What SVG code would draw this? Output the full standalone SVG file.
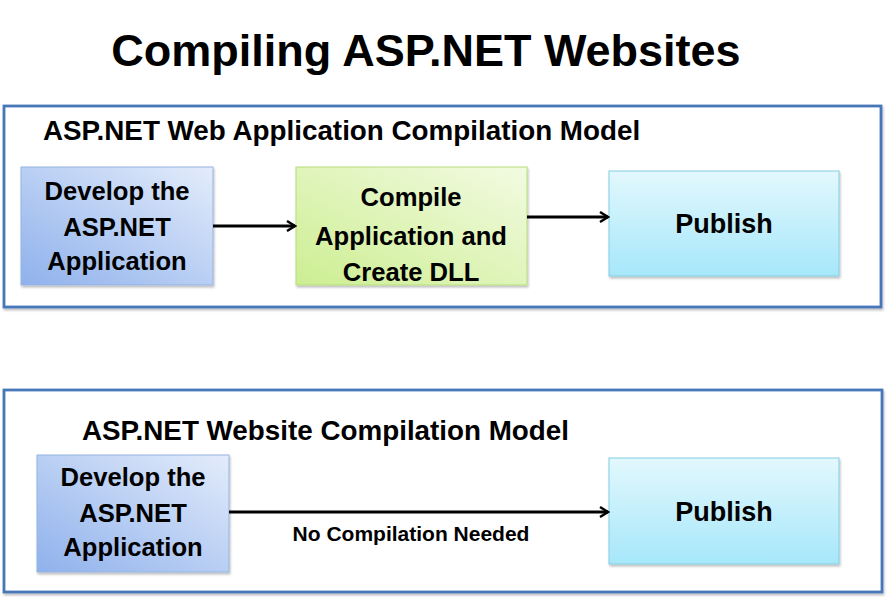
<svg xmlns="http://www.w3.org/2000/svg" width="887" height="597" viewBox="0 0 887 597">
<defs>
<linearGradient id="gBlue" x1="0" y1="1" x2="1" y2="0">
<stop offset="0" stop-color="#8fb1ec"/>
<stop offset="1" stop-color="#e3ecfb"/>
</linearGradient>
<linearGradient id="gGreen" x1="0" y1="1" x2="1" y2="0">
<stop offset="0" stop-color="#cdee92"/>
<stop offset="1" stop-color="#f2fbe2"/>
</linearGradient>
<linearGradient id="gCyan" x1="0" y1="0" x2="0" y2="1">
<stop offset="0" stop-color="#e2f8fd"/>
<stop offset="1" stop-color="#a6e7fa"/>
</linearGradient>
<marker id="arr" markerWidth="12" markerHeight="12" refX="10" refY="6" orient="auto" markerUnits="userSpaceOnUse">
<path d="M2,1 L10,6 L2,11" fill="none" stroke="#000" stroke-width="2.4"/>
</marker>
<filter id="sh" x="-5%" y="-5%" width="115%" height="120%">
<feDropShadow dx="1" dy="2" stdDeviation="1.2" flood-color="#000" flood-opacity="0.25"/>
</filter>
</defs>
<style>
text { font-family: "Liberation Sans", Arial, sans-serif; font-weight: bold; fill: #000; }
.panel { fill: #fff; stroke: #4677b8; stroke-width: 2.8; filter: url(#sh); }
.head { font-size: 27.8px; }
.node { font-size: 25.6px; text-anchor: middle; }
.pub { font-size: 27px; text-anchor: middle; }
.conn { stroke: #000; stroke-width: 2.8; fill: none; marker-end: url(#arr); }
.lbl { font-size: 21px; text-anchor: middle; }
</style>
<rect width="887" height="597" fill="#fff"/>
<text x="426" y="66" font-size="45" text-anchor="middle">Compiling ASP.NET Websites</text>

<g id="panel-webapp">
<rect class="panel" x="4" y="106" width="877" height="201"/>
<text class="head" x="43" y="140">ASP.NET Web Application Compilation Model</text>
</g>
<g id="panel-website">
<rect class="panel" x="4" y="390" width="878" height="202"/>
<text class="head" x="82" y="440">ASP.NET Website Compilation Model</text>
</g>

<g id="develop1">
<rect x="21" y="167" width="192" height="118" fill="url(#gBlue)" stroke="#95b3e0" stroke-width="1" filter="url(#sh)"/>
<text class="node" x="117" y="200">Develop the</text>
<text class="node" x="117" y="236">ASP.NET</text>
<text class="node" x="117" y="270">Application</text>
</g>
<g id="compile">
<rect x="296" y="167" width="231" height="118" fill="url(#gGreen)" stroke="#b6dc7c" stroke-width="1" filter="url(#sh)"/>
<text class="node" x="411" y="206">Compile</text>
<text class="node" x="411" y="245">Application and</text>
<text class="node" x="411" y="281">Create DLL</text>
</g>
<g id="publish1">
<rect x="609" y="171" width="230" height="105" fill="url(#gCyan)" stroke="#86cde3" stroke-width="1" filter="url(#sh)"/>
<text class="pub" x="724" y="233">Publish</text>
</g>

<g id="develop2">
<rect x="37" y="455" width="192" height="117" fill="url(#gBlue)" stroke="#95b3e0" stroke-width="1" filter="url(#sh)"/>
<text class="node" x="133" y="486">Develop the</text>
<text class="node" x="133" y="522">ASP.NET</text>
<text class="node" x="133" y="556">Application</text>
</g>
<g id="publish2">
<rect x="609" y="458" width="230" height="106" fill="url(#gCyan)" stroke="#86cde3" stroke-width="1" filter="url(#sh)"/>
<text class="pub" x="724" y="521">Publish</text>
</g>

<g id="connectors">
<line class="conn" x1="213" y1="226" x2="295" y2="226"/>
<line class="conn" x1="527" y1="217" x2="608" y2="217"/>
<line class="conn" x1="229" y1="512" x2="608" y2="512"/>
<text class="lbl" x="411" y="541">No Compilation Needed</text>
</g>
</svg>
